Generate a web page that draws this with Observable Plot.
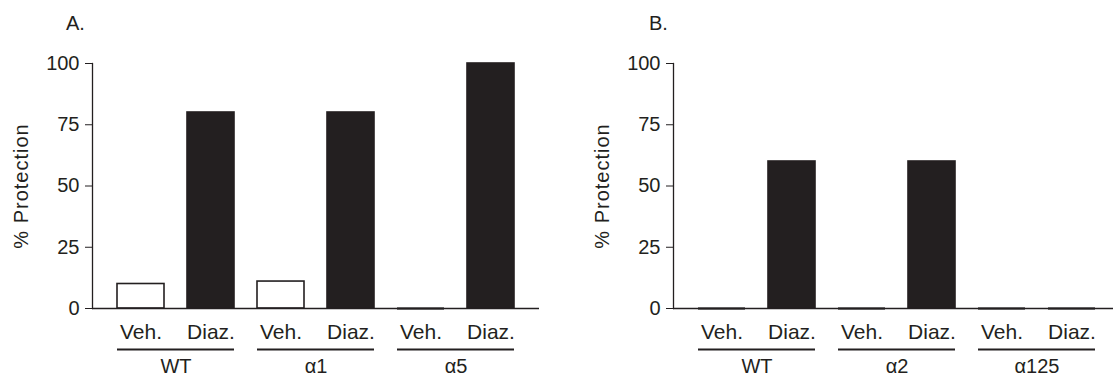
<!DOCTYPE html>
<html><head><meta charset="utf-8">
<script src="https://cdn.jsdelivr.net/npm/d3@7"></script>
<script src="https://cdn.jsdelivr.net/npm/@observablehq/plot@0.6"></script>
<style>
html,body{margin:0;padding:0;background:#fff;overflow:hidden;width:1113px;height:377px}
#wrap{position:relative;width:1113px;height:377px;overflow:hidden;background:#fff}
.panel{position:absolute;top:0}
.panel svg{max-width:none !important}
.tag{position:absolute;top:13px;font:20px/20px "Liberation Sans",Arial,sans-serif;color:#231f20}
svg [aria-label="y-axis label"] text{letter-spacing:1px}
</style></head><body><div id="wrap"></div>
<script>
// ---- data ----
const treatments = ["Veh.", "Diaz."];
const groupsA = ["WT", "α1", "α5"];
const vehA = [10, 11, 0];
const diazA = [80, 80, 100];
const groupsB = ["WT", "α2", "α125"];
const vehB = [0, 0, 0];
const diazB = [60, 60, 0];
const yTicks = [0, 25, 50, 75, 100];
const yLabel = "% Protection";
const panelTags = ["A.", "B."];

const INK = "#231f20";
const FONT = '"Liberation Sans", Arial, sans-serif';

function makeRows(groups, veh, diaz) {
  const out = [];
  groups.forEach((g, i) => {
    out.push({group: g, t: treatments[0], key: g + "|" + treatments[0], value: veh[i]});
    out.push({group: g, t: treatments[1], key: g + "|" + treatments[1], value: diaz[i]});
  });
  return out;
}

function panel(groups, veh, diaz, tag, L) {
  const data = makeRows(groups, veh, diaz);
  const keys = data.map(d => d.key);
  const groupRows = groups.map(g => ({group: g, k1: g + "|" + treatments[0], k2: g + "|" + treatments[1]}));
  const base = {
    width: L.width, height: 377,
    marginTop: 63, marginBottom: 69, marginLeft: L.marginLeft, marginRight: L.marginRight,
    style: {fontFamily: FONT, fontSize: "20px", color: INK, background: "transparent", maxWidth: "none"},
    x: {domain: keys, paddingInner: 0.33, paddingOuter: 0.34},
    y: {domain: [0, 100]}
  };
  const probe = Plot.plot({...base, marks: [Plot.barY(data, {x: "key", y: "value"})]});
  const step = probe.scale("x").step;
  const plot = Plot.plot({
    ...base,
    marks: [
      Plot.barY(data.filter(d => d.value > 0), {
        x: "key", y: "value",
        fill: d => d.t === treatments[0] ? "white" : INK,
        stroke: INK, strokeWidth: 1.6
      }),
      Plot.ruleY(data.filter(d => d.value === 0), {x1: "key", x2: "key", y: "value", stroke: "#4a4a4a", strokeWidth: 2.5}),
      Plot.ruleY([0], {stroke: INK, strokeWidth: 1.3}),
      Plot.frame({anchor: "left", stroke: INK, strokeWidth: 1.3}),
      Plot.axisY({ticks: yTicks, tickSize: 7, tickPadding: 6, label: yLabel,
        labelAnchor: "center", labelArrow: "none", labelOffset: 79}),
      Plot.axisX({tickSize: 0, tickPadding: 16, fontSize: 21, tickFormat: k => k.split("|")[1], label: null}),
      Plot.ruleY(groupRows, {x1: "k1", x2: "k2", y: () => 0, dy: 41, stroke: INK, strokeWidth: 2}),
      Plot.text(groupRows, {x: "k1", y: () => 0, dx: step / 2, dy: 58, text: "group", fill: INK, fontSize: 20})
    ]
  });
  plot.style.maxWidth = "none";
  const div = document.createElement("div");
  div.className = "panel";
  div.style.left = L.left + "px";
  div.style.width = L.width + "px";
  div.appendChild(plot);
  document.getElementById("wrap").appendChild(div);
  const t = document.createElement("div");
  t.className = "tag";
  t.style.left = L.tagLeft + "px";
  t.textContent = tag;
  document.getElementById("wrap").appendChild(t);
}

panel(groupsA, vehA, diazA, panelTags[0], {left: 0, width: 556, marginLeft: 92, marginRight: 17, tagLeft: 66});
panel(groupsB, vehB, diazB, panelTags[1], {left: 556, width: 564, marginLeft: 117, marginRight: 0, tagLeft: 649});
</script></body></html>
